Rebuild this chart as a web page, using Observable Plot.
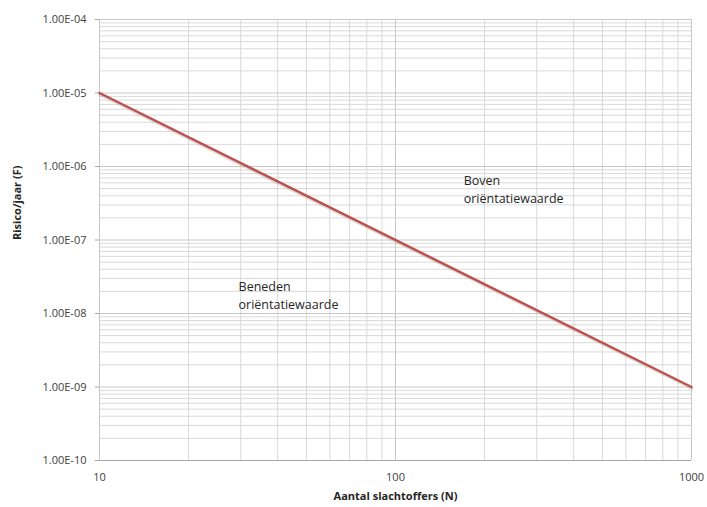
<!DOCTYPE html>
<html>
<head>
<meta charset="utf-8">
<script src="https://cdn.jsdelivr.net/npm/d3@7"></script>
<script src="https://cdn.jsdelivr.net/npm/@observablehq/plot@0.6"></script>
<style>
  html, body { margin: 0; padding: 0; background: #fff; }
  #chart { width: 707px; height: 507px; }
  svg { font-family: "Open Sans", "Liberation Sans", sans-serif; }
</style>
</head>
<body>
<div id="chart"></div>
<script>
// Data
const lineN = [10, 1000];
const lineF = [1e-5, 1e-9];

// Axis ticks
const xTicks = [10, 100, 1000];
const xTickLabels = ["10", "100", "1000"];
const yTicks = [1e-10, 1e-9, 1e-8, 1e-7, 1e-6, 1e-5, 1e-4];
const yTickLabels = ["1.00E-10", "1.00E-09", "1.00E-08", "1.00E-07", "1.00E-06", "1.00E-05", "1.00E-04"];

// Minor grid multipliers
const minorMult = [2, 3, 4, 5, 6, 7, 8, 9];
const xDecades = [10, 100];
const yDecades = [1e-10, 1e-9, 1e-8, 1e-7, 1e-6, 1e-5];

// Region annotations
const annoText = ["Boven\noriëntatiewaarde", "Beneden\noriëntatiewaarde"];
const annoN = [170, 29.5];
const annoF = [5.0e-7, 1.83e-8];

const xMinor = xDecades.flatMap(d => minorMult.map(m => d * m));
const yMinor = yDecades.flatMap(d => minorMult.map(m => d * m));
const lineData = lineN.map((n, i) => ({n, f: lineF[i]}));
const annoData = annoText.map((t, i) => ({t, n: annoN[i], f: annoF[i]}));
const yLabelMap = new Map(yTicks.map((t, i) => [t, yTickLabels[i]]));
const xLabelMap = new Map(xTicks.map((t, i) => [t, xTickLabels[i]]));

const chart = Plot.plot({
  width: 707,
  height: 507,
  marginLeft: 99,
  marginRight: 16,
  marginTop: 19,
  marginBottom: 47,
  style: {fontSize: "11px", color: "#404040", fontFamily: "'Open Sans', 'Liberation Sans', sans-serif"},
  x: {type: "log", domain: [10, 1000], label: null},
  y: {type: "log", domain: [1e-10, 1e-4], label: null},
  marks: [
    Plot.ruleX(xMinor, {stroke: "#d9d9d9", strokeWidth: 1}),
    Plot.ruleY(yMinor, {stroke: "#d9d9d9", strokeWidth: 1}),
    Plot.ruleX(xTicks, {stroke: "#c8c8c8", strokeWidth: 1}),
    Plot.ruleY(yTicks, {stroke: "#c8c8c8", strokeWidth: 1}),
    Plot.ruleY([1e-10], {stroke: "#a6a6a6", strokeWidth: 1}),
    Plot.axisY({ticks: yTicks, tickFormat: d => yLabelMap.get(d), tickSize: 4, tickPadding: 9, stroke: "#a6a6a6", fontSize: 11, fill: "#404040"}),
    Plot.axisX({ticks: xTicks, tickFormat: d => xLabelMap.get(d), tickSize: 0, tickPadding: 13, fontSize: 11, fill: "#404040"}),
    Plot.line(lineData, {x: "n", y: "f", stroke: "#9a9a9a", strokeOpacity: 0.35, strokeWidth: 3, dy: 1.5, dx: 0.5}),
    Plot.line(lineData, {x: "n", y: "f", stroke: "#c0504d", strokeWidth: 2.5}),
    Plot.text(annoData, {x: "n", y: "f", text: "t", textAnchor: "start", fontSize: 12.5, lineHeight: 1.45, fill: "#262626"}),
    Plot.text(["Aantal slachtoffers (N)"], {frameAnchor: "bottom", dy: 39, fontWeight: "bold", fontSize: 11, fill: "#262626"}),
    Plot.text(["Risico/jaar (F)"], {frameAnchor: "left", dx: -82, rotate: -90, fontWeight: "bold", fontSize: 11, fill: "#262626"})
  ]
});
document.getElementById("chart").appendChild(chart);
</script>
</body>
</html>
